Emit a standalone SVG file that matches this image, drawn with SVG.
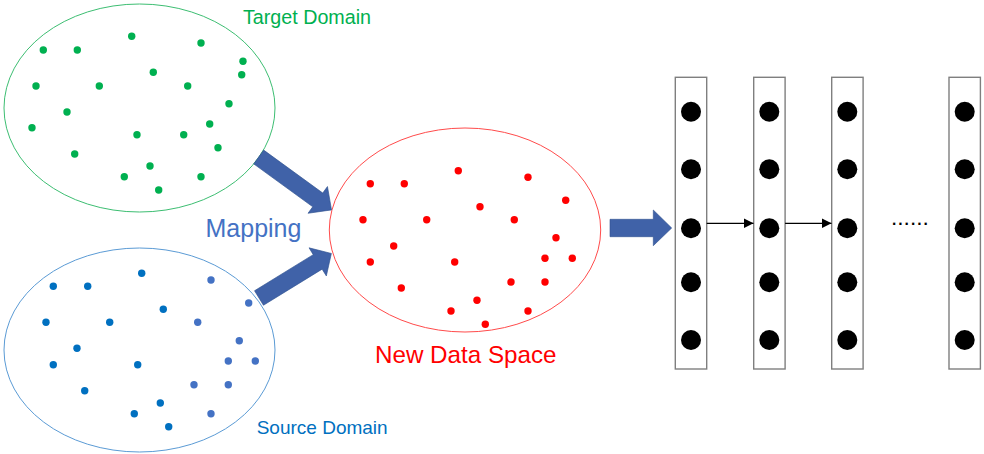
<svg xmlns="http://www.w3.org/2000/svg" width="984" height="454" viewBox="0 0 984 454">
<defs>
<style>
.lbl{font-family:"Liberation Sans",Arial,sans-serif}
.g{fill:#00B050}
.b{fill:#0070C0}
.b2{fill:#4472C4}
.r{fill:#FF0000}
.col{fill:#fff;stroke:#7f7f7f;stroke-width:1.4}
.n{fill:#000}
.big{fill:#4062A8;stroke:#2F528F;stroke-width:0.6}
.thin{stroke:#000;stroke-width:1.3;fill:none}
</style>
<marker id="ah" viewBox="0 0 10 10" refX="10" refY="5" markerWidth="10" markerHeight="10" markerUnits="userSpaceOnUse" orient="auto">
<path d="M0,0 L10,5 L0,10 Z" fill="#000"/>
</marker>
<path id="blk" d="M0,-8.5 L73,-8.5 L73,-16.5 L90,0 L73,16.5 L73,8.5 L0,8.5 Z"/>
</defs>
<rect width="984" height="454" fill="#fff"/>

<g id="target-domain">
<ellipse cx="139.5" cy="108" rx="135.5" ry="104" fill="none" stroke="#3DBE72" stroke-width="1"/>
<g class="g">
<circle cx="43.3" cy="50" r="3.7"/><circle cx="77.3" cy="50" r="3.7"/><circle cx="131.7" cy="36.3" r="3.7"/><circle cx="201" cy="43" r="3.7"/>
<circle cx="243" cy="61.3" r="3.7"/><circle cx="241.7" cy="74.7" r="3.7"/><circle cx="153.3" cy="72.3" r="3.7"/><circle cx="36" cy="86" r="3.7"/>
<circle cx="99.3" cy="86" r="3.7"/><circle cx="187.7" cy="86" r="3.7"/><circle cx="229" cy="103.7" r="3.7"/><circle cx="67" cy="112" r="3.7"/>
<circle cx="32" cy="127.7" r="3.7"/><circle cx="137" cy="134.7" r="3.7"/><circle cx="183.7" cy="134.7" r="3.7"/><circle cx="209.7" cy="124" r="3.7"/>
<circle cx="218" cy="147.7" r="3.7"/><circle cx="74.7" cy="154" r="3.7"/><circle cx="150" cy="166" r="3.7"/><circle cx="124.3" cy="176.7" r="3.7"/>
<circle cx="201" cy="176.7" r="3.7"/><circle cx="158.7" cy="190" r="3.7"/>
</g>
<text class="lbl" x="243" y="24" font-size="19.7" fill="#00B050">Target Domain</text>
</g>

<g id="source-domain">
<ellipse cx="139.5" cy="350" rx="135.5" ry="102" fill="none" stroke="#5B9BD5" stroke-width="1"/>
<g class="b">
<circle cx="141.7" cy="273.3" r="3.7"/><circle cx="53.3" cy="286.3" r="3.7"/><circle cx="87.7" cy="286.3" r="3.7"/><circle cx="163.3" cy="309.3" r="3.7"/>
<circle cx="46" cy="322.3" r="3.7"/><circle cx="109.7" cy="322.3" r="3.7"/><circle cx="77" cy="348.3" r="3.7"/><circle cx="53.3" cy="364.7" r="3.7"/>
<circle cx="137.7" cy="364.7" r="3.7"/><circle cx="84.7" cy="390.7" r="3.7"/><circle cx="160.3" cy="403" r="3.7"/><circle cx="134.3" cy="413.7" r="3.7"/>
<circle cx="168.7" cy="426.7" r="3.7"/>
</g>
<g class="b2">
<circle cx="211" cy="280" r="3.7"/><circle cx="248.7" cy="303" r="3.7"/><circle cx="197.7" cy="322.3" r="3.7"/><circle cx="239.3" cy="340.7" r="3.7"/>
<circle cx="228.3" cy="361" r="3.7"/><circle cx="255.3" cy="361" r="3.7"/><circle cx="194" cy="384.7" r="3.7"/><circle cx="228.3" cy="384.7" r="3.7"/>
<circle cx="211" cy="413.7" r="3.7"/>
</g>
<text class="lbl" x="256.7" y="434" font-size="19" fill="#0070C0">Source Domain</text>
</g>

<g id="new-data-space">
<ellipse cx="465" cy="230" rx="135.7" ry="102" fill="none" stroke="#FF4B4B" stroke-width="1"/>
<g class="r">
<circle cx="458.3" cy="170.7" r="3.7"/><circle cx="370.3" cy="183.7" r="3.7"/><circle cx="404.3" cy="183.7" r="3.7"/><circle cx="528" cy="177.3" r="3.7"/>
<circle cx="565.7" cy="200.3" r="3.7"/><circle cx="480" cy="206.7" r="3.7"/><circle cx="363" cy="219.7" r="3.7"/><circle cx="426.7" cy="219.7" r="3.7"/>
<circle cx="514.3" cy="219.7" r="3.7"/><circle cx="556" cy="237.7" r="3.7"/><circle cx="393.7" cy="246" r="3.7"/><circle cx="370.3" cy="262" r="3.7"/>
<circle cx="454.7" cy="262" r="3.7"/><circle cx="545" cy="258.3" r="3.7"/><circle cx="572.3" cy="258.3" r="3.7"/><circle cx="401.3" cy="288" r="3.7"/>
<circle cx="511" cy="282" r="3.7"/><circle cx="545" cy="282" r="3.7"/><circle cx="477" cy="300.3" r="3.7"/><circle cx="451" cy="311" r="3.7"/>
<circle cx="528" cy="311" r="3.7"/><circle cx="485.3" cy="324.3" r="3.7"/>
</g>
<text class="lbl" x="375" y="363" font-size="24.2" fill="#FF0000">New Data Space</text>
</g>

<g id="layer-1">
<rect class="col" x="675.3" y="77.3" width="31.4" height="291.7"/>
<circle class="n" cx="691" cy="111.7" r="10"/><circle class="n" cx="691" cy="169.3" r="10"/><circle class="n" cx="691" cy="228.3" r="10"/><circle class="n" cx="691" cy="282.3" r="10"/><circle class="n" cx="691" cy="340" r="10"/>
</g>
<g id="layer-2">
<rect class="col" x="753.7" y="77.3" width="31.4" height="291.7"/>
<circle class="n" cx="769.3" cy="111.7" r="10"/><circle class="n" cx="769.3" cy="169.3" r="10"/><circle class="n" cx="769.3" cy="228.3" r="10"/><circle class="n" cx="769.3" cy="282.3" r="10"/><circle class="n" cx="769.3" cy="340" r="10"/>
</g>
<g id="layer-3">
<rect class="col" x="831.7" y="77.3" width="31.4" height="291.7"/>
<circle class="n" cx="847.3" cy="111.7" r="10"/><circle class="n" cx="847.3" cy="169.3" r="10"/><circle class="n" cx="847.3" cy="228.3" r="10"/><circle class="n" cx="847.3" cy="282.3" r="10"/><circle class="n" cx="847.3" cy="340" r="10"/>
</g>
<g id="layer-n">
<rect class="col" x="949" y="77.3" width="31.4" height="291.7"/>
<circle class="n" cx="964.7" cy="111.7" r="10"/><circle class="n" cx="964.7" cy="169.3" r="10"/><circle class="n" cx="964.7" cy="228.3" r="10"/><circle class="n" cx="964.7" cy="282.3" r="10"/><circle class="n" cx="964.7" cy="340" r="10"/>
</g>
<g id="ellipsis">
<text class="lbl" x="891" y="225" font-size="22.7" fill="#000">......</text>
</g>

<g id="connectors">
<use href="#blk" class="big" transform="translate(258.7,157) rotate(36)"/>
<use href="#blk" class="big" transform="translate(259,298) rotate(-31.6) scale(0.944,1)"/>
<polygon class="big" points="610,219.3 653.3,219.3 653.3,210 671.7,228 653.3,245.7 653.3,236.7 610,236.7"/>
<line class="thin" x1="706.7" y1="223.3" x2="753.5" y2="223.3" marker-end="url(#ah)"/>
<line class="thin" x1="785.1" y1="223.3" x2="831.5" y2="223.3" marker-end="url(#ah)"/>
</g>
<g id="mapping-label">
<text class="lbl" x="205.5" y="236.5" font-size="25" fill="#4472C4">Mapping</text>
</g>
</svg>
